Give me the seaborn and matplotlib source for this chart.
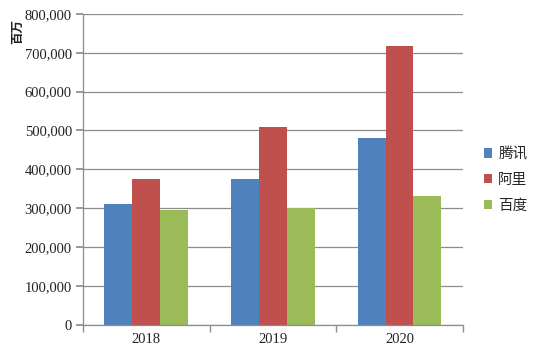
import matplotlib
matplotlib.use("Agg")
import matplotlib.pyplot as plt
import seaborn as sns
import pandas as pd
from matplotlib.ticker import FuncFormatter, FixedLocator

years = ["2018", "2019", "2020"]
companies = ["腾讯", "阿里", "百度"]
tencent = [311000, 375000, 481000]
ali = [375000, 509000, 717000]
baidu = [296000, 301000, 332000]
colors = ["#4F81BD", "#C0504D", "#9BBB59"]

df = pd.DataFrame({
    "year": years * 3,
    "company": [companies[0]] * 3 + [companies[1]] * 3 + [companies[2]] * 3,
    "value": tencent + ali + baidu,
})

sns.set_theme(style="white")
plt.rcParams['font.family'] = ['Noto Sans CJK SC', 'DejaVu Sans']

fig = plt.figure(figsize=(5.42, 3.55), dpi=100)
ax = fig.add_axes([0.153, 0.085, 0.701, 0.876])
sns.barplot(data=df, x="year", y="value", hue="company", palette=colors,
            width=0.66, saturation=1, ax=ax, legend=True, linewidth=0, edgecolor="none")

ax.set_ylim(0, 800000)
ax.set_xlim(-0.5, 2.5)
ax.set_yticks(range(0, 800001, 100000))
ax.yaxis.set_major_formatter(FuncFormatter(lambda v, p: f"{int(v):,}"))
ax.grid(axis="y", color="#8c8c8c", linewidth=0.9)
ax.set_axisbelow(True)
for s in ["top", "right"]:
    ax.spines[s].set_visible(False)
for s in ["left", "bottom"]:
    ax.spines[s].set_color("#8c8c8c")
    ax.spines[s].set_linewidth(0.9)

ax.tick_params(axis="y", which="major", length=5, color="#8c8c8c", direction="out", left=True,
               labelsize=10.5, pad=3)
ax.tick_params(axis="x", which="major", length=0, labelsize=10.5, pad=6)
ax.xaxis.set_minor_locator(FixedLocator([-0.5, 0.5, 1.5, 2.5]))
ax.tick_params(axis="x", which="minor", length=5, color="#8c8c8c", direction="out", bottom=True)
for lab in ax.get_yticklabels() + ax.get_xticklabels():
    lab.set_fontfamily(["Liberation Serif", "DejaVu Serif"])
    lab.set_color("#222222")

ax.set_xlabel("")
ax.set_ylabel("")
fig.text(0.032, 0.91, "百万", rotation=90, ha="center", va="center", fontsize=9,
         fontweight="bold", color="#222222")

ax.legend(loc="center left", bbox_to_anchor=(1.02, 0.466), frameon=False, fontsize=10.5,
          handlelength=0.6, handleheight=0.6, handletextpad=0.4, labelspacing=0.8)

fig.savefig("out.png", dpi=100)
